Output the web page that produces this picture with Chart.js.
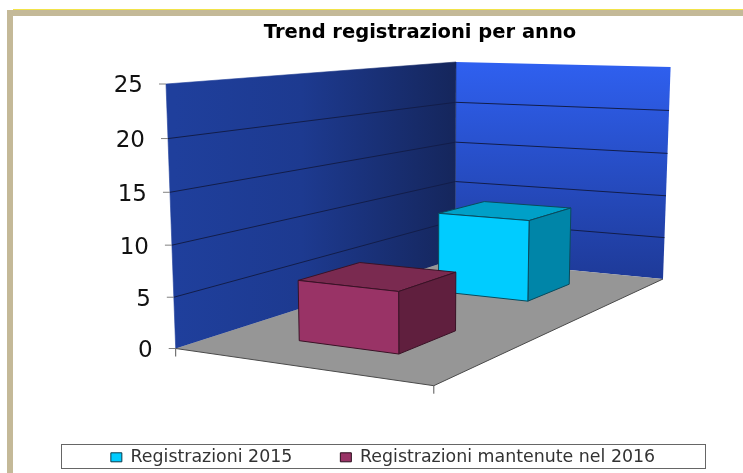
<!DOCTYPE html>
<html><head><meta charset="utf-8">
<style>
html,body{margin:0;padding:0;background:#fff;width:743px;height:473px;overflow:hidden}
.f{position:absolute}
#wrap{position:absolute;left:0;top:0;width:743px;height:473px}
</style>
<script src="https://cdn.jsdelivr.net/npm/chart.js@4/dist/chart.umd.js"></script>
</head><body>
<div class="f" style="left:13px;right:0;top:9px;height:1px;background:#f2e34a"></div>
<div class="f" style="left:7px;right:0;top:10px;height:6px;background:#c4b998"></div>
<div class="f" style="left:7px;width:6px;top:10px;bottom:0;background:#c4b998"></div>
<div id="wrap"><canvas id="c" width="743" height="473"></canvas></div>
<script>
const categories = [''];
const seriesNames = ['Registrazioni 2015', 'Registrazioni mantenute nel 2016'];
const registrazioni2015 = [9];
const registrazioniMantenute2016 = [6];
const axisMax = 25;
const axisStep = 5;

// perspective of the 3-D box, from its corners on the page
const O=[455,259], C=[663,279], A=[175.7,348.5], T=[456,62], AT=[166,84], CT=[671,67];
// homogeneous weights so that the wall tops land on their corners
const a1=A[0]-AT[0], b1=T[0]-AT[0], r1=O[0]-AT[0];
const a2=A[1]-AT[1], b2=T[1]-AT[1], r2=O[1]-AT[1];
const dt=a1*b2-a2*b1;
const w2=(r1*b2-r2*b1)/dt, w3=(a1*r2-a2*r1)/dt;
const w1=(O[1]-CT[1]-w3*(T[1]-CT[1]))/(C[1]-CT[1]);
const hom=(p,w)=>[p[0]*w,p[1]*w,w];
const p0=hom(O,1);
const sub=(a,b)=>a.map((v,i)=>v-b[i]);
const ps=sub(hom(C,w1),p0), pd=sub(hom(A,w2),p0), pt=sub(hom(T,w3),p0);
function project(s,d,t){
  const h=[0,1,2].map(i=>p0[i]+s*ps[i]+d*pd[i]+t*pt[i]);
  return [h[0]/h[2],h[1]/h[2]];
}
function poly(ctx,pts,fill,stroke,lw){
  ctx.beginPath();
  pts.forEach((p,i)=>i?ctx.lineTo(p[0],p[1]):ctx.moveTo(p[0],p[1]));
  ctx.closePath();
  if(fill){ctx.fillStyle=fill;ctx.fill();}
  if(stroke){ctx.strokeStyle=stroke;ctx.lineWidth=lw||1;ctx.stroke();}
}
const fraction=(scale,v)=>(scale.bottom-scale.getPixelForValue(v))/(scale.bottom-scale.top);

// Value axis whose labels follow the slanted edge of the left wall
class SlantedLinear extends Chart.LinearScale{
  _computeLabelArea(){return undefined;}
  _computeLabelItems(area){
    const items=super._computeLabelItems(area);
    items.forEach((it,i)=>{
      const p=project(0,1,fraction(this,this.ticks[i].value));
      it.options.translation=[p[0]-23,p[1]+2.5];
      it.options.textAlign='right';
    });
    return items;
  }
}
SlantedLinear.id='slantedLinear';
SlantedLinear.defaults=Chart.LinearScale.defaults;
Chart.register(SlantedLinear);

const boxStyles=[
  {front:'#00ccff',top:'#00a0c8',side:'#0085a8',edge:'#0a4a5c',band:[0.15,0.35]},
  {front:'#993366',top:'#7a2a50',side:'#601f3e',edge:'#3a1226',band:[0.65,0.85]}
];
const barSpan=[0.3,0.7];

const box3d={
  id:'box3d',
  beforeDatasetDraw(){return false;},
  beforeDatasetsDraw(chart){
    const ctx=chart.ctx, y=chart.scales.y;
    ctx.save();
    // left wall
    let g=ctx.createLinearGradient(A[0],0,O[0],0);
    g.addColorStop(0,'#1f3f9c');g.addColorStop(0.45,'#1d3a90');g.addColorStop(1,'#15265c');
    // right wall
    const g2=ctx.createLinearGradient(0,T[1],0,C[1]);
    g2.addColorStop(0,'#2f60f0');g2.addColorStop(1,'#1e3a98');
    poly(ctx,[project(0,0,0),project(1,0,0),project(1,0,1),project(0,0,1)],g2);
    poly(ctx,[project(0,1,0),project(0,0,0),project(0,0,1),project(0,1,1)],g,g,0.6);
    // floor
    poly(ctx,[project(0,0,0),project(1,0,0),project(1,1,0),project(0,1,0)],'#969696');
    ctx.strokeStyle='#4a4a4a';ctx.lineWidth=1;
    ctx.beginPath();
    let a=project(0,1,0),b=project(1,1,0),c=project(1,0,0);
    ctx.moveTo(a[0],a[1]);ctx.lineTo(b[0],b[1]);ctx.lineTo(c[0],c[1]);ctx.stroke();
    // grid lines and ticks from the value scale
    y.ticks.forEach(tk=>{
      const t=fraction(y,tk.value);
      const l=project(0,1,t),m=project(0,0,t),r=project(1,0,t);
      if(tk.value>0&&tk.value<axisMax){
        ctx.strokeStyle='#121d4a';ctx.lineWidth=1;
        ctx.beginPath();ctx.moveTo(l[0],l[1]);ctx.lineTo(m[0],m[1]);ctx.lineTo(r[0],r[1]);ctx.stroke();
      }
      ctx.strokeStyle='#808080';
      ctx.beginPath();ctx.moveTo(l[0]-7,l[1]);ctx.lineTo(l[0],l[1]);ctx.stroke();
    });
    ctx.strokeStyle='#555';
    ctx.beginPath();ctx.moveTo(a[0],a[1]);ctx.lineTo(a[0],a[1]+8);ctx.moveTo(b[0],b[1]);ctx.lineTo(b[0],b[1]+8);ctx.stroke();
    // boxes, back to front
    chart.data.datasets.forEach((ds,i)=>{
      const st=boxStyles[i], el=chart.getDatasetMeta(i).data[0];
      const h=(y.bottom-el.y)/(y.bottom-y.top);
      const [s0,s1]=barSpan,[d0,d1]=st.band;
      poly(ctx,[project(s0,d0,h),project(s1,d0,h),project(s1,d1,h),project(s0,d1,h)],st.top,st.edge);
      poly(ctx,[project(s1,d1,0),project(s1,d0,0),project(s1,d0,h),project(s1,d1,h)],st.side,st.edge);
      poly(ctx,[project(s0,d1,0),project(s1,d1,0),project(s1,d1,h),project(s0,d1,h)],st.front,st.edge);
    });
    ctx.restore();
  },
  afterDraw(chart){
    const ctx=chart.ctx,l=chart.legend;
    ctx.save();
    ctx.strokeStyle='#666';ctx.lineWidth=1;
    ctx.strokeRect(Math.round(l.left)+.5,444.5,Math.round(l.right-l.left),24);
    ctx.restore();
  }
};

new Chart(document.getElementById('c'),{
  type:'bar',
  data:{
    labels:categories,
    datasets:[
      {label:seriesNames[0],data:registrazioni2015,backgroundColor:'#00ccff',borderColor:'#0a3a4a',borderWidth:1},
      {label:seriesNames[1],data:registrazioniMantenute2016,backgroundColor:'#993366',borderColor:'#2a0d1c',borderWidth:1}
    ]
  },
  plugins:[box3d],
  options:{
    responsive:false,
    animation:false,
    layout:{padding:{left:61,right:38,top:0,bottom:-3}},
    plugins:{
      tooltip:{enabled:false},
      title:{display:true,text:'Trend registrazioni per anno',fullSize:false,color:'#000',
        font:{family:'"DejaVu Sans"',size:19.5,weight:'bold'},
        padding:{top:21,bottom:39.6}},
      legend:{position:'bottom',
        labels:{font:{family:'"DejaVu Sans"',size:17.4},color:'#333',boxWidth:11,boxHeight:9,padding:48}}
    },
    scales:{
      x:{display:true,grid:{display:false},border:{display:false},ticks:{display:false},
        afterFit(s){s.height=51;}},
      y:{type:'slantedLinear',min:0,max:axisMax,
        grid:{display:false},border:{display:false},
        ticks:{stepSize:axisStep,color:'#111',font:{family:'"DejaVu Sans"',size:23}},
        afterFit(s){s.width=74;}}
    }
  }
});
</script>
</body></html>
